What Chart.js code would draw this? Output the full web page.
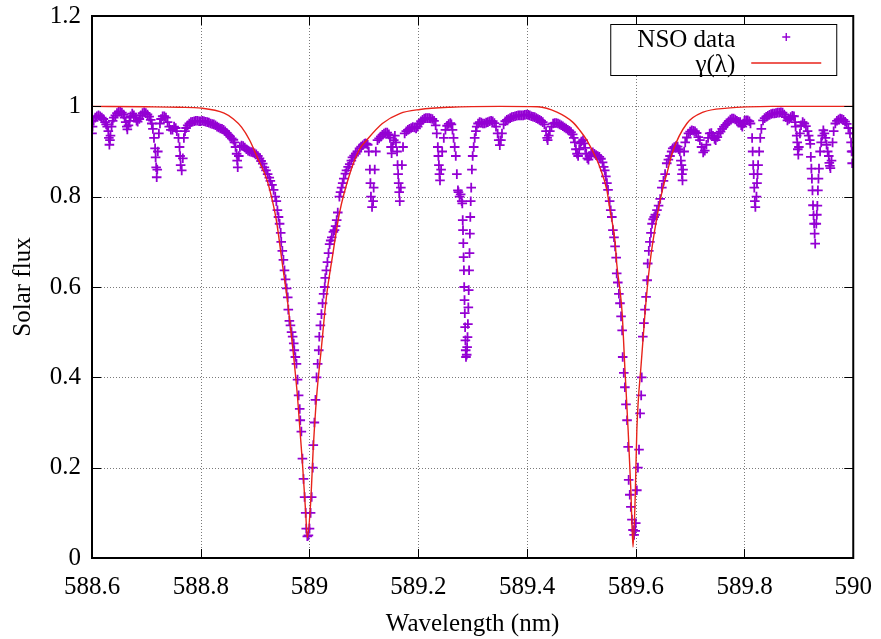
<!DOCTYPE html>
<html>
<head>
<meta charset="utf-8">
<script src="https://cdn.jsdelivr.net/npm/chart.js@4/dist/chart.umd.min.js"></script>
<style>
  body { margin: 0; background: #fff; }
  canvas { display: block; }
</style>
</head>
<body>
<canvas id="fluxChart" width="881" height="639"></canvas>
<script>
// NSO solar atlas around the sodium D lines, [wavelength nm, flux]
const nsoBlueWing = [
  [588.600,0.94],[588.601,0.955],[588.603,0.968],[588.606,0.975],[588.609,0.978],[588.612,0.98],[588.615,0.978],[588.618,0.975],[588.621,0.972],[588.624,0.965],
  [588.626,0.96],[588.628,0.955],[588.630,0.945],[588.631,0.93],[588.632,0.915],[588.633,0.925],[588.634,0.935],[588.636,0.955],[588.638,0.968],[588.640,0.975],
  [588.643,0.98],[588.646,0.985],[588.649,0.988],[588.652,0.988],[588.655,0.986],[588.658,0.982],[588.660,0.975],[588.662,0.965],[588.664,0.955],[588.665,0.949],
  [588.667,0.958],[588.669,0.968],[588.671,0.978],[588.674,0.984],[588.677,0.98],[588.680,0.975],[588.682,0.968],[588.684,0.966],[588.687,0.972],[588.690,0.98],
  [588.693,0.985],[588.696,0.987],[588.699,0.985],[588.702,0.982],[588.705,0.977],[588.708,0.97],[588.710,0.962],[588.712,0.95],[588.714,0.93],[588.716,0.907],
  [588.717,0.887],[588.718,0.865],[588.719,0.843],[588.720,0.86],[588.721,0.90],[588.723,0.94],[588.725,0.962],[588.727,0.972],[588.730,0.978],[588.733,0.978],
  [588.736,0.975],[588.739,0.965],[588.742,0.955],[588.745,0.948],[588.748,0.948],[588.751,0.955],[588.754,0.952],[588.756,0.945],[588.759,0.93],[588.761,0.91],
  [588.762,0.89],[588.763,0.87],[588.765,0.858],[588.767,0.885],[588.769,0.93],[588.771,0.945],[588.773,0.952],[588.776,0.958],[588.779,0.962],[588.782,0.965],
  [588.785,0.966],[588.788,0.967],[588.791,0.968],[588.794,0.968],[588.797,0.967],[588.800,0.967],[588.803,0.968],[588.806,0.967],[588.809,0.966],[588.812,0.965],
  [588.815,0.964],[588.818,0.962],[588.821,0.961],[588.824,0.96],[588.827,0.958],[588.830,0.955],[588.833,0.953],[588.836,0.951],[588.839,0.95],[588.842,0.948],
  [588.845,0.945],[588.848,0.941],[588.851,0.937],[588.854,0.933],[588.857,0.929],[588.860,0.926],[588.862,0.92],[588.864,0.91],[588.866,0.895],[588.867,0.88],
  [588.868,0.865],[588.870,0.89],[588.872,0.91],[588.875,0.913],[588.878,0.912],[588.881,0.909],[588.884,0.905],[588.887,0.902],[588.890,0.90],[588.893,0.899],
  [588.896,0.898],[588.899,0.896],[588.902,0.894],[588.905,0.89],[588.908,0.885],[588.911,0.879],[588.914,0.873],[588.917,0.865],[588.920,0.858],[588.923,0.85],
  [588.926,0.842],[588.928,0.835],[588.931,0.826],[588.934,0.815],[588.937,0.80],[588.939,0.79]
]
const nsoD2 = [
  [588.941,0.77],[588.943,0.755],[588.945,0.74],[588.947,0.72],[588.948,0.70],[588.950,0.68],[588.952,0.66],[588.954,0.637],[588.956,0.617],[588.958,0.597],
  [588.960,0.577],[588.961,0.55],[588.963,0.525],[588.965,0.515],[588.967,0.50],[588.969,0.49],[588.971,0.475],[588.972,0.46],[588.974,0.445],[588.976,0.43],
  [588.978,0.395],[588.980,0.36],[588.982,0.33],[588.983,0.305],[588.985,0.28],[588.987,0.22],[588.989,0.175],[588.991,0.135],[588.993,0.10],[588.994,0.065],
  [588.996,0.048],[588.998,0.05],[589.000,0.065],[589.002,0.10],[589.004,0.135],[589.006,0.20],[589.007,0.25],[589.009,0.30],[589.011,0.35],[589.013,0.40],
  [589.015,0.43],[589.017,0.46],[589.018,0.49],[589.020,0.515],[589.022,0.54],[589.024,0.564],[589.026,0.585],[589.028,0.60],[589.029,0.62],[589.031,0.637],
  [589.033,0.655],[589.035,0.675],[589.037,0.695],[589.039,0.703],[589.041,0.71],[589.044,0.722],[589.046,0.726],[589.048,0.735],[589.050,0.748],[589.052,0.765],
  [589.055,0.80],[589.057,0.81],[589.059,0.82],[589.061,0.83],[589.063,0.84],[589.066,0.851],[589.068,0.858],[589.071,0.866],[589.074,0.872],[589.077,0.88],
  [589.079,0.887],[589.082,0.891],[589.085,0.895],[589.088,0.90],[589.092,0.907],[589.095,0.911],[589.098,0.914],[589.101,0.917],[589.103,0.918],[589.105,0.917],
  [589.107,0.915]
]
const nsoMiddle = [
  [589.109,0.90],[589.111,0.86],[589.112,0.83],[589.113,0.80],[589.115,0.777],[589.117,0.79],[589.118,0.82],[589.120,0.86],[589.122,0.90],[589.125,0.925],
  [589.128,0.929],[589.131,0.933],[589.134,0.937],[589.137,0.94],[589.140,0.942],[589.143,0.942],[589.146,0.938],[589.148,0.93],[589.150,0.91],[589.151,0.896],
  [589.153,0.91],[589.155,0.925],[589.157,0.935],[589.159,0.92],[589.161,0.90],[589.162,0.87],[589.163,0.85],[589.164,0.83],[589.165,0.81],[589.166,0.79],
  [589.168,0.82],[589.170,0.87],[589.172,0.91],[589.175,0.94],[589.178,0.945],[589.181,0.948],[589.184,0.95],[589.187,0.952],[589.190,0.954],[589.193,0.953],
  [589.196,0.951],[589.199,0.955],[589.202,0.962],[589.205,0.967],[589.208,0.97],[589.211,0.973],[589.214,0.974],[589.217,0.974],[589.220,0.974],[589.223,0.973],
  [589.226,0.972],[589.229,0.968],[589.232,0.958],[589.234,0.94],[589.236,0.91],[589.237,0.89],[589.238,0.87],[589.239,0.85],[589.240,0.836],[589.242,0.86],
  [589.244,0.90],[589.247,0.93],[589.250,0.948],[589.253,0.957],[589.256,0.961],[589.259,0.963],[589.261,0.96],[589.263,0.948],[589.265,0.93],[589.267,0.91],
  [589.269,0.89],[589.271,0.85],[589.273,0.814],[589.274,0.81],[589.276,0.80],[589.278,0.805],[589.280,0.79],[589.2810,0.785],[589.2818,0.748],[589.2823,0.726],
  [589.2829,0.697],[589.2834,0.666],[589.2840,0.637],[589.2845,0.60],[589.2851,0.571],[589.2856,0.542],[589.2862,0.511],[589.2867,0.482],[589.2873,0.46],[589.2878,0.445],
  [589.2891,0.45],[589.2899,0.467],[589.2906,0.489],[589.2913,0.518],[589.2921,0.555],[589.2928,0.593],[589.2935,0.637],[589.2943,0.675],[589.2950,0.718],[589.2957,0.755],
  [589.2965,0.79],[589.2974,0.82],[589.2987,0.86],[589.3001,0.89],[589.302,0.91],[589.3038,0.93],[589.306,0.945],[589.3075,0.955],[589.310,0.962],[589.313,0.965],
  [589.316,0.964],[589.319,0.962],[589.322,0.962],[589.325,0.964],[589.328,0.965],[589.331,0.967],[589.334,0.968],[589.337,0.967],[589.340,0.963],[589.343,0.955],
  [589.346,0.94],[589.348,0.925],[589.350,0.914],[589.352,0.925],[589.354,0.94],[589.357,0.96],[589.360,0.967],[589.363,0.97],[589.366,0.972],[589.369,0.974],
  [589.372,0.976],[589.375,0.977],[589.378,0.978],[589.381,0.979],[589.384,0.98],[589.387,0.98],[589.390,0.98],[589.393,0.98],[589.396,0.981],[589.399,0.982],
  [589.402,0.981],[589.405,0.98],[589.408,0.978],[589.411,0.977],[589.414,0.976],[589.417,0.974],[589.420,0.972],[589.423,0.97],[589.426,0.968],[589.429,0.965],
  [589.432,0.96],[589.435,0.945],[589.437,0.93],[589.438,0.925],[589.440,0.935],[589.442,0.945],[589.445,0.955],[589.448,0.962],[589.451,0.963],[589.454,0.963],
  [589.457,0.962],[589.460,0.96],[589.463,0.958],[589.466,0.956],[589.469,0.953],[589.472,0.951],[589.475,0.948],[589.478,0.946],[589.481,0.943],[589.484,0.938],
  [589.486,0.93],[589.488,0.92],[589.490,0.905],[589.492,0.895],[589.494,0.89],[589.496,0.905],[589.498,0.918],[589.500,0.922],[589.503,0.925],[589.505,0.918],
  [589.507,0.908],[589.509,0.895],[589.511,0.885],[589.513,0.882],[589.515,0.89],[589.518,0.896],[589.521,0.898],[589.524,0.895],[589.527,0.892],[589.530,0.89],
  [589.533,0.888],[589.536,0.884],[589.539,0.876],[589.541,0.866],[589.543,0.858],[589.545,0.845]
]
const nsoD1 = [
  [589.547,0.83],[589.549,0.815],[589.552,0.79],[589.554,0.77],[589.556,0.755],[589.558,0.726],[589.560,0.71],[589.562,0.69],[589.564,0.665],[589.565,0.63],
  [589.567,0.61],[589.569,0.585],[589.571,0.564],[589.573,0.535],[589.575,0.504],[589.576,0.445],[589.578,0.41],[589.580,0.378],[589.582,0.34],[589.584,0.305],
  [589.586,0.246],[589.587,0.173],[589.589,0.14],[589.591,0.113],[589.593,0.085],[589.595,0.062],[589.597,0.051],[589.599,0.06],[589.600,0.077],[589.602,0.15],
  [589.604,0.20],[589.606,0.24],[589.608,0.32],[589.610,0.36],[589.611,0.40],[589.613,0.49],[589.615,0.52],[589.617,0.55],[589.619,0.578],[589.621,0.615],
  [589.622,0.652],[589.624,0.68],[589.626,0.70],[589.628,0.72],[589.630,0.74],[589.632,0.75],[589.634,0.755],[589.636,0.76],[589.639,0.77],[589.642,0.78],
  [589.645,0.795],[589.648,0.82],[589.651,0.835],[589.654,0.85],[589.657,0.874],[589.660,0.882],[589.663,0.89],[589.666,0.90],[589.668,0.907],[589.671,0.91],
  [589.674,0.912],[589.677,0.911],[589.679,0.905]
]
const nsoRedWing = [
  [589.681,0.90],[589.683,0.88],[589.684,0.87],[589.685,0.85],[589.686,0.836],[589.687,0.86],[589.689,0.90],[589.691,0.92],[589.694,0.931],[589.697,0.94],
  [589.700,0.944],[589.703,0.947],[589.706,0.946],[589.709,0.945],[589.712,0.941],[589.715,0.932],[589.718,0.925],[589.721,0.91],[589.724,0.898],[589.727,0.902],
  [589.730,0.915],[589.733,0.93],[589.736,0.94],[589.739,0.941],[589.742,0.935],[589.745,0.928],[589.747,0.925],[589.750,0.932],[589.753,0.94],[589.756,0.944],
  [589.759,0.95],[589.762,0.955],[589.765,0.959],[589.768,0.962],[589.771,0.967],[589.774,0.971],[589.777,0.973],[589.780,0.973],[589.783,0.971],[589.786,0.968],
  [589.789,0.966],[589.792,0.965],[589.794,0.958],[589.796,0.955],[589.798,0.962],[589.800,0.968],[589.803,0.969],[589.806,0.969],[589.809,0.967],[589.811,0.962],
  [589.814,0.93],[589.815,0.90],[589.816,0.87],[589.817,0.85],[589.818,0.82],[589.819,0.79],[589.820,0.777],[589.822,0.80],[589.823,0.83],[589.824,0.85],
  [589.825,0.87],[589.827,0.90],[589.829,0.93],[589.831,0.95],[589.834,0.969],[589.837,0.974],[589.840,0.977],[589.843,0.979],[589.846,0.981],[589.849,0.983],
  [589.852,0.984],[589.855,0.984],[589.858,0.985],[589.861,0.986],[589.864,0.986],[589.867,0.987],[589.870,0.986],[589.873,0.982],[589.876,0.976],[589.879,0.969],
  [589.882,0.972],[589.885,0.976],[589.888,0.979],[589.891,0.978],[589.893,0.965],[589.894,0.955],[589.896,0.935],[589.897,0.92],[589.898,0.905],[589.899,0.893],
  [589.900,0.91],[589.902,0.94],[589.904,0.958],[589.907,0.965],[589.910,0.962],[589.913,0.956],[589.916,0.945],[589.918,0.935],[589.920,0.925],[589.921,0.917],
  [589.922,0.888],[589.923,0.862],[589.924,0.84],[589.925,0.814],[589.926,0.781],[589.927,0.759],[589.928,0.74],[589.929,0.718],[589.930,0.696],[589.932,0.74],
  [589.933,0.76],[589.934,0.78],[589.935,0.814],[589.936,0.84],[589.937,0.862],[589.939,0.90],[589.941,0.92],[589.943,0.935],[589.945,0.947],[589.947,0.94],
  [589.949,0.93],[589.951,0.915],[589.953,0.90],[589.955,0.89],[589.956,0.875],[589.957,0.868],[589.958,0.863],[589.960,0.88],[589.962,0.92],[589.964,0.945],
  [589.967,0.962],[589.970,0.968],[589.973,0.971],[589.976,0.973],[589.979,0.972],[589.982,0.97],[589.985,0.966],[589.988,0.961],[589.991,0.952],[589.994,0.94],
  [589.996,0.92],[589.997,0.90],[589.998,0.874],[589.999,0.90],[590.000,0.94]
]

// model profile gamma(lambda)
const modelWave = [
  588.600, 588.700, 588.760, 588.801, 588.843, 588.860, 588.875, 588.890, 588.904, 588.921,
  588.930, 588.939, 588.950, 588.960, 588.969, 588.978, 588.987, 588.993, 588.996, 589.002,
  589.007, 589.013, 589.022, 589.031, 589.042, 589.055, 589.074, 589.092, 589.105, 589.134,
  589.166, 589.203, 589.258, 589.350, 589.420, 589.455, 589.484, 589.497, 589.510, 589.529,
  589.534, 589.547, 589.552, 589.562, 589.565, 589.571, 589.575, 589.580, 589.586, 589.591,
  589.595, 589.599, 589.602, 589.610, 589.617, 589.626, 589.639, 589.650, 589.657, 589.668,
  589.694, 589.724, 589.768, 589.850, 590.000
]
const modelFlux = [
  1.000, 0.999, 0.998, 0.996, 0.985, 0.972, 0.954, 0.925, 0.887, 0.84,
  0.80, 0.748, 0.652, 0.564, 0.467, 0.356, 0.21, 0.10, 0.045, 0.12,
  0.245, 0.356, 0.467, 0.577, 0.666, 0.763, 0.85, 0.905, 0.925, 0.962,
  0.984, 0.993, 0.998, 1.000, 0.999, 0.987, 0.965, 0.947, 0.925, 0.88,
  0.865, 0.814, 0.775, 0.70, 0.652, 0.593, 0.542, 0.42, 0.283, 0.15,
  0.024, 0.135, 0.283, 0.43, 0.542, 0.652, 0.755, 0.82, 0.85, 0.90,
  0.962, 0.987, 0.996, 1.000, 1.000
]

const xTicks = [588.6, 588.8, 589, 589.2, 589.4, 589.6, 589.8, 590]
const yTicks = [0, 0.2, 0.4, 0.6, 0.8, 1, 1.2]

const FONT = '"Liberation Serif", "Times New Roman", serif'
const PURPLE = '#9400d3'
const RED = '#e8231a'

// gnuplot-like frame: dotted grid, inward ticks on all sides, boxed key
const frame = {
  id: 'frame',
  beforeDatasetsDraw(chart) {
    const { ctx, chartArea: a, scales: { x, y } } = chart
    ctx.save()
    ctx.strokeStyle = '#7a7a7a'
    ctx.lineWidth = 1
    ctx.setLineDash([1, 2])
    ctx.beginPath()
    xTicks.slice(1, -1).forEach(v => {
      const px = Math.round(x.getPixelForValue(v)) + 0.5
      ctx.moveTo(px, a.top); ctx.lineTo(px, a.bottom)
    })
    yTicks.slice(1, -1).forEach(v => {
      const py = Math.round(y.getPixelForValue(v)) + 0.5
      ctx.moveTo(a.left, py); ctx.lineTo(a.right, py)
    })
    ctx.stroke()
    ctx.restore()
  },
  afterDraw(chart) {
    const { ctx, chartArea: a, scales: { x, y } } = chart
    ctx.save()
    ctx.strokeStyle = '#000'
    ctx.lineWidth = 1
    ctx.beginPath()
    xTicks.forEach(v => {
      const px = Math.round(x.getPixelForValue(v)) + 0.5
      ctx.moveTo(px, a.bottom); ctx.lineTo(px, a.bottom - 9)
      ctx.moveTo(px, a.top); ctx.lineTo(px, a.top + 9)
    })
    yTicks.forEach(v => {
      const py = Math.round(y.getPixelForValue(v)) + 0.5
      ctx.moveTo(a.left, py); ctx.lineTo(a.left + 9, py)
      ctx.moveTo(a.right, py); ctx.lineTo(a.right - 9, py)
    })
    ctx.stroke()
    ctx.lineWidth = 2
    ctx.strokeRect(a.left, a.top, a.right - a.left, a.bottom - a.top)

    // key
    const bx = a.right - 243, by = a.top + 8, bw = 227, bh = 52
    ctx.fillStyle = '#fff'
    ctx.fillRect(bx, by, bw, bh)
    ctx.lineWidth = 1
    ctx.strokeRect(bx + 0.5, by + 0.5, bw - 1, bh - 1)
    ctx.fillStyle = '#000'
    ctx.font = '25px ' + FONT
    ctx.textAlign = 'right'
    ctx.textBaseline = 'alphabetic'
    ctx.fillText('NSO data', a.right - 118, a.top + 31)
    ctx.fillText('γ(λ)', a.right - 118, a.top + 56)
    ctx.strokeStyle = PURPLE
    ctx.lineWidth = 1.4
    ctx.beginPath()
    const cx = a.right - 67, cy = a.top + 21
    ctx.moveTo(cx - 4, cy); ctx.lineTo(cx + 4, cy)
    ctx.moveTo(cx, cy - 4); ctx.lineTo(cx, cy + 4)
    ctx.stroke()
    ctx.strokeStyle = RED
    ctx.lineWidth = 1.4
    ctx.beginPath()
    ctx.moveTo(a.right - 102, a.top + 47); ctx.lineTo(a.right - 32, a.top + 47)
    ctx.stroke()
    ctx.restore()
  }
}

Chart.defaults.font.family = FONT
Chart.defaults.color = '#000'

const nsoPoints = [...nsoBlueWing, ...nsoD2, ...nsoMiddle, ...nsoD1, ...nsoRedWing]

new Chart(document.getElementById('fluxChart').getContext('2d'), {
  type: 'scatter',
  data: {
    datasets: [
      {
        label: 'NSO data',
        data: nsoPoints.map(([w, f]) => ({ x: w, y: f })),
        showLine: false,
        pointStyle: 'cross',
        pointRadius: 4.8,
        pointBorderWidth: 1.8,
        borderColor: PURPLE,
        backgroundColor: PURPLE,
        order: 2,
      },
      {
        label: 'γ(λ)',
        data: modelWave.map((w, i) => ({ x: w, y: modelFlux[i] })),
        showLine: true,
        pointRadius: 0,
        borderColor: RED,
        borderWidth: 1.4,
        cubicInterpolationMode: 'monotone',
        order: 1,
      },
    ],
  },
  options: {
    responsive: false,
    animation: false,
    layout: { padding: { top: 16, right: 26, left: 0, bottom: 0 } },
    plugins: { legend: { display: false }, tooltip: { enabled: false } },
    scales: {
      x: {
        type: 'linear',
        min: 588.6,
        max: 590,
        afterBuildTicks: s => { s.ticks = xTicks.map(v => ({ value: v })) },
        afterFit: s => { s.height = 81 },
        grid: { display: false },
        border: { display: false },
        ticks: { font: { size: 25, lineHeight: 1 }, padding: 9, maxRotation: 0, callback: v => String(v) },
        title: { display: true, text: 'Wavelength (nm)', font: { size: 25 }, padding: { top: 0, bottom: 0 } },
      },
      y: {
        type: 'linear',
        min: 0,
        max: 1.2,
        afterBuildTicks: s => { s.ticks = yTicks.map(v => ({ value: v })) },
        afterFit: s => { s.width = 92 },
        grid: { display: false },
        border: { display: false },
        ticks: { font: { size: 25, lineHeight: 1 }, padding: 3, callback: v => String(v) },
        title: { display: true, text: 'Solar flux', font: { size: 25 }, padding: { top: 8, bottom: 0 } },
      },
    },
  },
  plugins: [frame],
})
</script>
</body>
</html>
